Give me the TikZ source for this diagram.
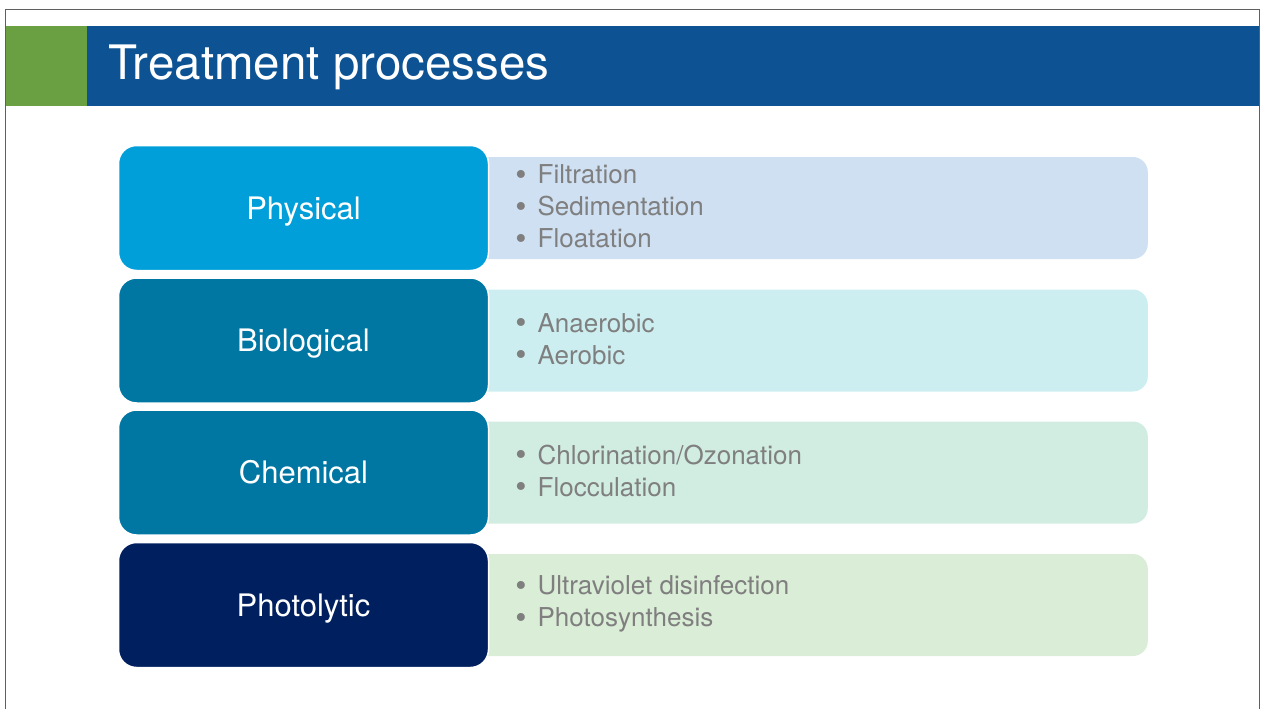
\documentclass[tikz,border=0pt]{standalone}
\usepackage{fontspec}
\setmainfont{TeX Gyre Heros}
\usepackage{xcolor}
\usetikzlibrary{positioning}
\definecolor{headblue}{HTML}{0D5394}
\definecolor{leafgreen}{HTML}{6A9F42}
\definecolor{framegrey}{HTML}{5F5F5F}
\definecolor{physblue}{HTML}{009FDA}
\definecolor{tealblue}{HTML}{0077A3}
\definecolor{navy}{HTML}{001F5F}
\definecolor{physfill}{HTML}{CFE0F2}
\definecolor{biofill}{HTML}{CDEEF0}
\definecolor{chemfill}{HTML}{D1ECE1}
\definecolor{photofill}{HTML}{DAEDD6}
\definecolor{itemgrey}{HTML}{7F7F7F}
\tikzset{
  catbox/.style={rectangle, rounded corners=18pt, fill=#1, draw=white,
                 line width=1.5pt, text=white, minimum width=370pt,
                 minimum height=125pt, text height=22pt, text depth=0pt,
                 font=\fontsize{31}{37}\selectfont},
  listbox/.style={rectangle, rounded corners=15pt, fill=#1,
                  minimum width=680pt, minimum height=102pt, anchor=east},
  items/.style={align=left, text=itemgrey, inner sep=0pt,
                font=\fontsize{26}{32}\selectfont},
}
\newcommand{\itm}{\raisebox{-1.5pt}{\fontsize{32}{32}\selectfont\textbullet}\hspace{11pt}}

\begin{document}
\begin{tikzpicture}[x=1pt,y=-1pt]
  \useasboundingbox (0,0) rectangle (1261,709);

  % slide frame
  \draw[framegrey, line width=1.3pt] (5.5,720) -- (5.5,9.5) -- (1259.5,9.5) -- (1259.5,720);

  % title bar
  \fill[leafgreen] (6,26) rectangle (87,106);
  \fill[headblue] (87,26) rectangle (1259,106);
  \node[anchor=base west, inner sep=0pt, text=white,
        font=\fontsize{47.5}{50}\selectfont] (title) at (108,80) {Treatment processes};

  % physical
  \node[listbox=physfill] (physback) at (1148,208) {};
  \node[catbox=physblue] (phys) at (303.5,208) {Physical};
  \node[items, right=26pt of phys, yshift=1pt] (physitems) {\itm Filtration\\ \itm Sedimentation\\ \itm Floatation};

  % biological
  \node[listbox=biofill] (bioback) at (1148,340.5) {};
  \node[catbox=tealblue] (bio) at (303.5,340.5) {Biological};
  \node[items, right=26pt of bio, yshift=1pt] (bioitems) {\itm Anaerobic\\ \itm Aerobic};

  % chemical
  \node[listbox=chemfill] (chemback) at (1148,472.5) {};
  \node[catbox=tealblue] (chem) at (303.5,472.5) {Chemical};
  \node[items, right=26pt of chem, yshift=1pt] (chemitems) {\itm Chlorination/Ozonation\\ \itm Flocculation};

  % photolytic
  \node[listbox=photofill] (photoback) at (1148,605) {};
  \node[catbox=navy] (photo) at (303.5,605) {Photolytic};
  \node[items, right=26pt of photo, yshift=1pt] (photoitems) {\itm Ultraviolet disinfection\\ \itm Photosynthesis};
\end{tikzpicture}
\end{document}
